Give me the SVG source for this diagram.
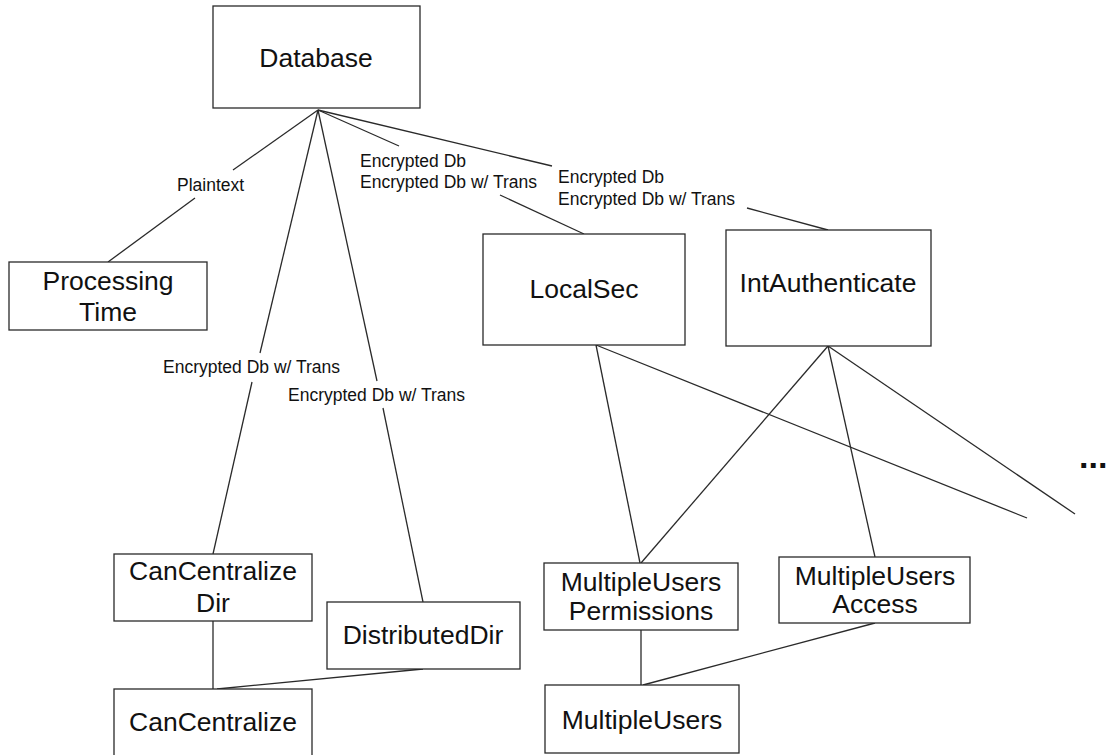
<svg xmlns="http://www.w3.org/2000/svg" width="1112" height="755" viewBox="0 0 1112 755">
  <style>
    .box { fill: #ffffff; stroke: #2a2a2a; stroke-width: 1.3; }
    .edge { stroke: #2a2a2a; stroke-width: 1.3; fill: none; }
    .big { font-family: "Liberation Sans", Arial, sans-serif; font-size: 26.5px; fill: #111; text-anchor: middle; }
    .lbl { font-family: "Liberation Sans", Arial, sans-serif; font-size: 17.5px; fill: #111; }
  </style>
  <rect width="1112" height="755" fill="#ffffff"/>

  <!-- connectors -->
  <g id="connectors">
    <!-- Database -> Processing Time (Plaintext) -->
    <line class="edge" x1="318" y1="110" x2="233" y2="170"/>
    <line class="edge" x1="195" y1="198" x2="108" y2="262"/>
    <!-- Database -> CanCentralize Dir -->
    <line class="edge" x1="318" y1="110" x2="260" y2="353"/>
    <line class="edge" x1="252" y1="382" x2="213" y2="554"/>
    <!-- Database -> DistributedDir -->
    <line class="edge" x1="318" y1="110" x2="377" y2="381"/>
    <line class="edge" x1="383" y1="408" x2="423" y2="602"/>
    <!-- Database -> LocalSec -->
    <line class="edge" x1="318" y1="110" x2="399" y2="146"/>
    <line class="edge" x1="500" y1="195" x2="584" y2="234"/>
    <!-- Database -> IntAuthenticate -->
    <line class="edge" x1="318" y1="110" x2="552" y2="166"/>
    <line class="edge" x1="747" y1="208" x2="828" y2="230"/>
    <!-- LocalSec -> MultipleUsers Permissions, and onward -->
    <line class="edge" x1="596" y1="345" x2="640" y2="563"/>
    <line class="edge" x1="596" y1="345" x2="1027" y2="518"/>
    <!-- IntAuthenticate -> MultipleUsers Permissions / Access, and onward -->
    <line class="edge" x1="828" y1="346" x2="641" y2="563"/>
    <line class="edge" x1="828" y1="346" x2="875" y2="557"/>
    <line class="edge" x1="828" y1="346" x2="1075" y2="514"/>
    <!-- lower level -->
    <line class="edge" x1="213" y1="621" x2="213" y2="689"/>
    <line class="edge" x1="423" y1="669" x2="217" y2="689"/>
    <line class="edge" x1="641" y1="630" x2="641" y2="685"/>
    <line class="edge" x1="875" y1="623" x2="643" y2="685"/>
  </g>

  <!-- edge labels -->
  <g id="edge-labels">
    <text class="lbl" x="177" y="191">Plaintext</text>
    <text class="lbl" x="360" y="167">Encrypted Db</text>
    <text class="lbl" x="360" y="188">Encrypted Db w/ Trans</text>
    <text class="lbl" x="558" y="183">Encrypted Db</text>
    <text class="lbl" x="558" y="205">Encrypted Db w/ Trans</text>
    <text class="lbl" x="163" y="373">Encrypted Db w/ Trans</text>
    <text class="lbl" x="288" y="401">Encrypted Db w/ Trans</text>
  </g>

  <!-- nodes -->
  <g id="database">
    <rect class="box" x="213" y="6" width="207" height="102"/>
    <text class="big" x="316" y="67">Database</text>
  </g>
  <g id="processing-time">
    <rect class="box" x="9" y="262" width="198" height="68"/>
    <text class="big" x="108" y="290">Processing</text>
    <text class="big" x="108" y="321">Time</text>
  </g>
  <g id="localsec">
    <rect class="box" x="483" y="234" width="202" height="111"/>
    <text class="big" x="584" y="298">LocalSec</text>
  </g>
  <g id="intauthenticate">
    <rect class="box" x="726" y="230" width="205" height="116"/>
    <text class="big" x="828" y="292">IntAuthenticate</text>
  </g>
  <g id="cancentralize-dir">
    <rect class="box" x="114" y="554" width="198" height="67"/>
    <text class="big" x="213" y="580">CanCentralize</text>
    <text class="big" x="213" y="612">Dir</text>
  </g>
  <g id="distributed-dir">
    <rect class="box" x="327" y="602" width="193" height="67"/>
    <text class="big" x="423" y="644">DistributedDir</text>
  </g>
  <g id="cancentralize">
    <rect class="box" x="114" y="689" width="198" height="80"/>
    <text class="big" x="213" y="731">CanCentralize</text>
  </g>
  <g id="multipleusers-permissions">
    <rect class="box" x="544" y="563" width="194" height="67"/>
    <text class="big" x="641" y="591">MultipleUsers</text>
    <text class="big" x="641" y="620">Permissions</text>
  </g>
  <g id="multipleusers-access">
    <rect class="box" x="779" y="557" width="191" height="66"/>
    <text class="big" x="875" y="585">MultipleUsers</text>
    <text class="big" x="875" y="613">Access</text>
  </g>
  <g id="multipleusers">
    <rect class="box" x="545" y="685" width="194" height="68"/>
    <text class="big" x="642" y="729">MultipleUsers</text>
  </g>
  <g id="more">
    <text x="1079" y="468" font-family="Liberation Sans, Arial, sans-serif" font-size="34" font-weight="bold" fill="#111">...</text>
  </g>
</svg>
